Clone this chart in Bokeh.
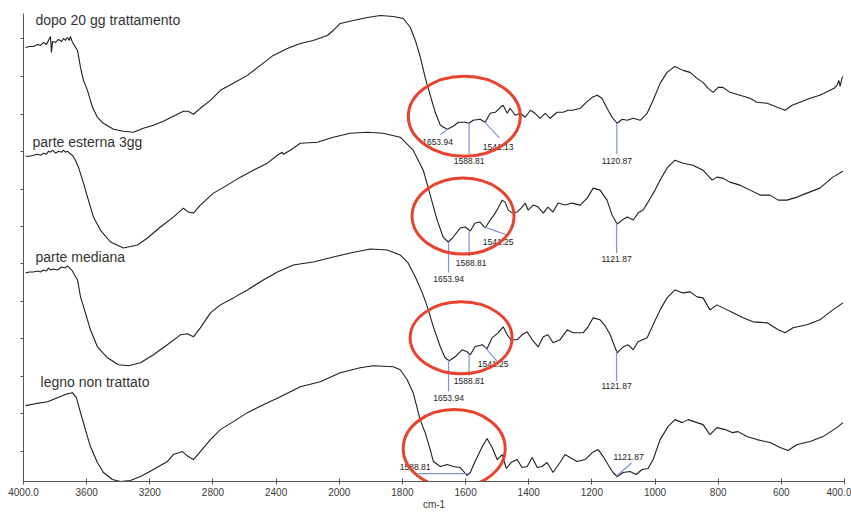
import numpy as np
from bokeh.plotting import figure
from bokeh.models import Range1d, FixedTicker, CustomJSTickFormatter
from bokeh.core.properties import value
from bokeh.embed import file_html
from bokeh.resources import INLINE

# ---------------------------------------------------------------------------
# FT-IR spectra, wavenumber (cm-1) and stacked intensity (a.u.)
# ---------------------------------------------------------------------------
dopo_wn = [3987, 3962, 3937, 3911, 3892, 3873, 3854, 3842, 3829, 3823, 3816, 3797, 3778, 3759,
           3747, 3734, 3722, 3709, 3703, 3690, 3677, 3658, 3639, 3620, 3595, 3563, 3532, 3494,
           3430, 3367, 3304, 3241, 3177, 3114, 3051, 2987, 2956, 2924, 2880, 2816, 2753, 2671,
           2582, 2500, 2418, 2329, 2247, 2165, 2076, 2038, 1997, 1956, 1911, 1870, 1829, 1797,
           1775, 1759, 1744, 1728, 1712, 1696, 1680, 1658, 1639, 1623, 1601, 1589, 1576, 1554,
           1538, 1522, 1506, 1490, 1481, 1468, 1459, 1443, 1427, 1411, 1395, 1380, 1364, 1348,
           1332, 1310, 1291, 1275, 1260, 1237, 1221, 1199, 1183, 1168, 1152, 1136, 1120, 1104,
           1088, 1069, 1047, 1025, 1006, 984, 962, 937, 911, 889, 867, 848, 832, 816, 800, 785,
           763, 731, 699, 677, 645, 613, 588, 566, 541, 509, 478, 446, 433, 424, 418, 414, 408, 405]
dopo_y = [435, 436, 436, 438, 437, 440, 438, 442, 446, 430, 441, 440, 443, 441,
          444, 442, 445, 442, 446, 440, 437, 432, 415, 402, 392, 375, 365, 359,
          353, 351, 350, 354, 357, 361, 366, 371, 371, 368, 374, 382, 392, 399,
          407, 417, 427, 434, 439, 442, 447, 452, 459, 462, 465, 467, 466, 464,
          455, 442, 426, 405, 387, 370, 357, 353, 356, 360, 360, 359, 362, 363,
          360, 369, 370, 375, 377, 369, 374, 367, 369, 365, 372, 369, 364, 369,
          364, 370, 370, 372, 372, 374, 379, 385, 387, 384, 374, 365, 359, 363,
          362, 364, 362, 369, 382, 399, 410, 416, 412, 410, 404, 400, 394, 390, 395, 395,
          390, 387, 384, 380, 379, 375, 372, 377, 380, 384, 387, 392, 394, 397, 402, 396, 404, 406]

esterna_wn = [3987, 3962, 3937, 3911, 3892, 3873, 3854, 3842, 3829, 3816, 3797, 3778, 3759, 3747,
              3734, 3722, 3709, 3690, 3671, 3652, 3620, 3589, 3557, 3513, 3449, 3367, 3278, 3215,
              3133, 3051, 2987, 2956, 2924, 2880, 2797, 2709, 2627, 2544, 2456, 2392, 2361, 2354,
              2310, 2247, 2139, 2038, 1965, 1911, 1861, 1807, 1766, 1734, 1712, 1690, 1671, 1655,
              1639, 1617, 1601, 1585, 1570, 1554, 1538, 1522, 1506, 1497, 1484, 1475, 1465, 1452,
              1437, 1421, 1411, 1402, 1386, 1370, 1354, 1339, 1323, 1307, 1285, 1263, 1237, 1215,
              1196, 1174, 1152, 1136, 1120, 1104, 1088, 1069, 1054, 1038, 1022, 1000, 984, 962,
              937, 911, 880, 848, 819, 804, 785, 763, 731, 699, 667, 636, 610, 582, 550, 519,
              478, 437, 405]
esterna_y = [326, 326, 327, 328, 327, 329, 328, 331, 330, 332, 329, 331, 330, 332,
             330, 331, 329, 327, 322, 315, 299, 282, 265, 252, 240, 234, 237, 244,
             255, 265, 274, 270, 269, 277, 289, 297, 305, 312, 319, 327, 330, 328,
             332, 339, 340, 345, 349, 350, 349, 345, 332, 312, 287, 262, 245, 240,
             245, 254, 255, 251, 259, 260, 254, 262, 269, 274, 282, 280, 272, 269,
             270, 275, 279, 272, 277, 275, 269, 275, 270, 279, 277, 279, 277, 284,
             294, 292, 282, 267, 258, 262, 265, 262, 269, 272, 280, 292, 302, 314,
             322, 319, 317, 312, 302, 305, 304, 300, 297, 292, 287, 287, 282, 282, 285, 289,
             294, 305, 311]

mediana_wn = [3987, 3962, 3937, 3911, 3892, 3873, 3854, 3842, 3829, 3810, 3785, 3759, 3734, 3722,
              3709, 3690, 3677, 3658, 3639, 3608, 3576, 3532, 3468, 3399, 3335, 3259, 3177, 3089,
              3006, 2962, 2924, 2880, 2816, 2753, 2671, 2582, 2481, 2392, 2291, 2165, 2038, 1965,
              1902, 1848, 1807, 1782, 1759, 1737, 1721, 1702, 1680, 1665, 1652, 1633, 1611, 1595,
              1585, 1570, 1547, 1532, 1516, 1497, 1481, 1468, 1456, 1437, 1421, 1405, 1389, 1370,
              1354, 1339, 1323, 1301, 1278, 1260, 1228, 1212, 1196, 1174, 1158, 1142, 1130, 1120,
              1101, 1085, 1069, 1054, 1025, 1006, 984, 962, 937, 911, 889, 867, 848, 826, 804,
              785, 753, 721, 690, 645, 610, 588, 563, 519, 478, 437, 405]
mediana_y = [209, 210, 210, 211, 210, 212, 211, 214, 212, 213, 212, 215, 214, 216,
             214, 211, 207, 202, 185, 169, 152, 135, 124, 117, 116, 119, 127, 137,
             147, 148, 145, 154, 169, 177, 184, 192, 202, 210, 217, 220, 225, 229,
             233, 232, 227, 219, 205, 189, 175, 155, 135, 124, 121, 125, 132, 130,
             127, 135, 137, 133, 144, 149, 155, 147, 142, 142, 147, 150, 142, 135,
             145, 147, 139, 142, 152, 149, 149, 155, 164, 162, 156, 147, 137, 129,
             135, 137, 132, 140, 144, 157, 172, 184, 192, 189, 190, 185, 184, 172, 177,
             174, 169, 164, 160, 159, 152, 149, 154, 157, 162, 172, 179]

legno_wn = [3987, 3924, 3848, 3785, 3722, 3690, 3665, 3639, 3608, 3576, 3532, 3494, 3437, 3386,
            3323, 3259, 3177, 3089, 3051, 2994, 2956, 2924, 2880, 2816, 2753, 2671, 2582, 2481,
            2373, 2247, 2120, 1997, 1934, 1892, 1829, 1807, 1785, 1766, 1744, 1728, 1712, 1702,
            1680, 1658, 1639, 1617, 1595, 1585, 1570, 1547, 1532, 1516, 1500, 1484, 1471, 1456,
            1437, 1421, 1405, 1389, 1373, 1358, 1342, 1323, 1301, 1285, 1269, 1247, 1221, 1199,
            1180, 1164, 1149, 1133, 1120, 1101, 1079, 1060, 1041, 1022, 1006, 984, 959, 937,
            914, 895, 867, 848, 826, 804, 778, 756, 737, 709, 677, 636, 604, 579, 550, 509,
            468, 424, 405]
legno_y = [76, 78, 80, 84, 88, 89, 84, 69, 52, 35, 19, 9, 2, 0,
           1, 5, 12, 20, 27, 30, 25, 22, 30, 42, 52, 60, 69, 77,
           85, 95, 100, 109, 114, 116, 115, 112, 102, 89, 62, 49, 32, 20,
           15, 17, 15, 14, 6, 9, 20, 35, 43, 34, 22, 27, 13, 19,
           22, 14, 15, 24, 14, 15, 19, 9, 19, 27, 24, 20, 22, 29,
           32, 25, 17, 9, 5, 9, 10, 7, 12, 13, 22, 42, 55, 62,
           59, 62, 59, 57, 47, 54, 52, 49, 50, 45, 42, 39, 34, 31, 37, 40,
           45, 54, 59]

series_names = ["dopo 20 gg trattamento", "parte esterna 3gg", "parte mediana", "legno non trattato"]

# assigned bands printed on each trace
dopo_peaks = [1653.94, 1588.81, 1541.13, 1120.87]
esterna_peaks = [1653.94, 1588.81, 1541.25, 1121.87]
mediana_peaks = [1653.94, 1588.81, 1541.25, 1121.87]
legno_peaks = [1588.81, 1121.87]

tick_wn = [4000, 3600, 3200, 2800, 2400, 2000, 1800, 1600, 1400, 1200, 1000, 800, 600, 400]
tick_labels = ["4000.0", "3600", "3200", "2800", "2400", "2000", "1800", "1600",
               "1400", "1200", "1000", "800", "600", "400.0"]

# ---------------------------------------------------------------------------
# layout / style
# ---------------------------------------------------------------------------
W, H = 851, 512
BL, BR, BT, BB = 23, 7, 13, 30
FRAME_W, FRAME_H = W - BL - BR, H - BT - BB
Y_MAX = 469
X_MAX = 5200          # axis runs 4000 -> 2000 at one scale, 2000 -> 400 at double scale
TPX = X_MAX / FRAME_W  # axis units per screen pixel (x)
YPX = Y_MAX / FRAME_H  # axis units per screen pixel (y)

CURVE = "#1e1e1e"
MARK = "#7e92d6"
RING = "#e8432e"
FONT = "Liberation Sans"


def xt(w):
    """Wavenumber -> axis coordinate with the scale change at 2000 cm-1."""
    w = np.asarray(w, dtype=float)
    return np.where(w >= 2000, 4000 - w, 2000 + 2 * (2000 - w))


spectra = [
    (dopo_wn, dopo_y, dopo_peaks),
    (esterna_wn, esterna_y, esterna_peaks),
    (mediana_wn, mediana_y, mediana_peaks),
    (legno_wn, legno_y, legno_peaks),
]

# leader (dx, dy) and label centre (lx, ly) offsets in pixels, y pointing down
leaders = [
    [(-8, 6, -11, 13), (0, 31, 0, 38), (15, 16, 14, 25), (0, 31, 0, 38)],
    [(0, 31, 0, 37), (0, 26, 2, 33), (25, 9, 14, 15), (0, 30, 0, 36)],
    [(0, 31, 0, 38), (0, 22, 0, 27), (13, 15, 9, 18), (0, 30, 0, 35)],
    [(-51, 0, -54, -7), (15, -13, 12, -19)],
]

# name label anchors (cm-1, a.u.)
name_pos = [(3924, 462), (3943, 340), (3924, 225), (3892, 100)]

# highlighted region on each trace: centre (cm-1, a.u.) and ring size (px)
rings = [(1604, 366, 112, 80), (1608, 266, 102, 76), (1614, 144, 102, 72), (1636, 33, 102, 78)]

p = figure(width=W, height=H, output_backend="svg", toolbar_location=None,
           x_range=Range1d(0, X_MAX), y_range=Range1d(0, Y_MAX),
           min_border_left=BL, min_border_right=BR, min_border_top=BT, min_border_bottom=BB)
p.outline_line_color = None
p.xgrid.visible = False
p.ygrid.visible = False
p.background_fill_color = "white"
p.border_fill_color = "white"

# x axis with the original wavenumber labels
ticks_t = [int(v) for v in xt(tick_wn)]
p.xaxis.ticker = FixedTicker(ticks=ticks_t)
p.xaxis.major_label_overrides = {t: lab for t, lab in zip(ticks_t, tick_labels)}
p.xaxis.minor_tick_line_color = None
p.xaxis.major_tick_in = 3
p.xaxis.major_tick_out = 3
p.xaxis.axis_line_color = "#555555"
p.xaxis.major_tick_line_color = "#555555"
p.xaxis.major_label_text_font = FONT
p.xaxis.major_label_text_font_size = "10px"
p.xaxis.major_label_text_color = "#3a3a3a"
p.xaxis.major_label_standoff = 3
p.xaxis.axis_label = "cm-1"
p.xaxis.axis_label_text_font = FONT
p.xaxis.axis_label_text_font_size = "10px"
p.xaxis.axis_label_text_font_style = "normal"
p.xaxis.axis_label_text_color = "#3a3a3a"
p.xaxis.axis_label_standoff = 0

# y axis: unlabeled ticks only
p.yaxis.ticker = FixedTicker(ticks=[30, 68, 105, 143, 180, 218, 256, 293, 331, 368, 406, 444])
p.yaxis.formatter = CustomJSTickFormatter(code="return '';")
p.yaxis.minor_tick_line_color = None
p.yaxis.major_tick_in = 0
p.yaxis.major_tick_out = 3
p.yaxis.major_label_standoff = 0
p.yaxis.axis_line_color = "#555555"
p.yaxis.major_tick_line_color = "#555555"

for (wn, yy, peaks), offs, name, (nx, ny) in zip(spectra, leaders, series_names, name_pos):
    wn_a = np.asarray(wn, dtype=float)
    yy_a = np.asarray(yy, dtype=float)
    p.line(xt(wn_a), yy_a, line_color=CURVE, line_width=1.1)

    order = np.argsort(wn_a)
    for pk, (dx, dy, lx, ly) in zip(peaks, offs):
        x0 = float(xt(pk))
        y0 = float(np.interp(pk, wn_a[order], yy_a[order]))
        p.segment(x0=[x0], y0=[y0], x1=[x0 + dx * TPX], y1=[y0 - dy * YPX],
                  line_color=MARK, line_width=1.2)
        p.text(x=[x0 + lx * TPX], y=[y0 - ly * YPX], text=[f"{pk:.2f}"],
               text_align="center", text_baseline="middle",
               text_font=value(FONT), text_font_size="8.5px", text_color="#222222")

    p.text(x=[float(xt(nx))], y=[ny], text=[name], text_align="left", text_baseline="middle",
           text_font=value(FONT), text_font_size="14px", text_color="#333333")

for cw, cy, rw, rh in rings:
    p.ellipse(x=[float(xt(cw))], y=[cy], width=rw, height=rh,
              width_units="screen", height_units="screen",
              fill_alpha=0, line_color=RING, line_width=3)

open("out.html", "w").write(file_html(p, INLINE))
